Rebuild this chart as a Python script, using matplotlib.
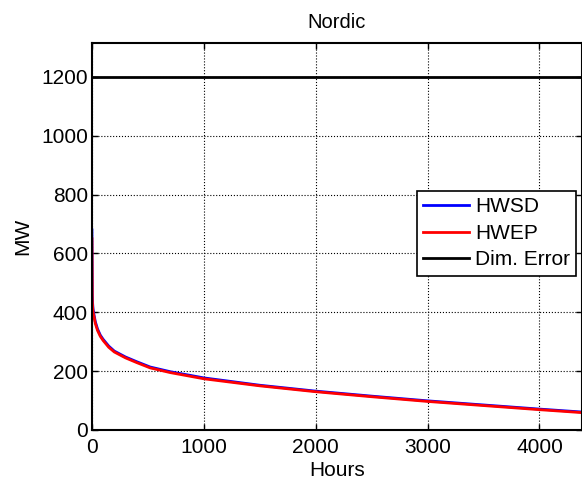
import numpy as np
import matplotlib.pyplot as plt

# duration curve
hours = [0, 3, 6, 10, 20, 30, 50, 75, 100, 150, 200, 300, 400, 520, 700,
         1000, 1500, 2000, 2500, 3000, 3500, 4000, 4380]
hwsd = [680, 460, 430, 410, 388, 368, 343, 322, 308, 285, 268, 248, 232, 214, 198,
        177, 152, 132, 115, 99, 85, 71, 61]
hwep = [650, 440, 418, 400, 382, 362, 338, 318, 304, 281, 265, 245, 229, 211, 195,
        174, 150, 130, 113, 97, 83, 69, 59]
dim_error = 1200

plt.rcParams['font.family'] = ['Liberation Sans', 'DejaVu Sans']
plt.rcParams['font.size'] = 15

fig = plt.figure(figsize=(5.82, 4.84), dpi=100)
ax = fig.add_axes([0.158, 0.1116, 0.842, 0.7996])

ax.plot(hours, hwsd, color='blue', lw=2, label='HWSD')
ax.plot(hours, hwep, color='red', lw=2, label='HWEP')
ax.plot([0, 4380], [dim_error, dim_error], color='black', lw=2, label='Dim. Error')

ax.set_xlim(0, 4380)
ax.set_ylim(0, 1315)
ax.set_xticks(np.arange(0, 4001, 1000))
ax.set_yticks(np.arange(0, 1201, 200))
ax.grid(True, linestyle=':', color='black', lw=0.8)
ax.tick_params(direction='in', top=True, right=True, length=4, width=1)
ax.tick_params(axis='x', pad=6)
ax.tick_params(axis='y', pad=3)
for s in ax.spines.values():
    s.set_linewidth(1.5)

ax.set_title('Nordic', fontsize=14.5, pad=11)
ax.set_xlabel('Hours', labelpad=3)
ax.set_ylabel('MW', labelpad=6)

leg = ax.legend(loc='upper right', bbox_to_anchor=(0.988, 0.617), borderaxespad=0,
                fancybox=False, framealpha=1, edgecolor='black', handlelength=2.2,
                handletextpad=0.3, labelspacing=0.36, borderpad=0.3)
leg.get_frame().set_linewidth(1.2)

fig.savefig('out.png', dpi=100)
